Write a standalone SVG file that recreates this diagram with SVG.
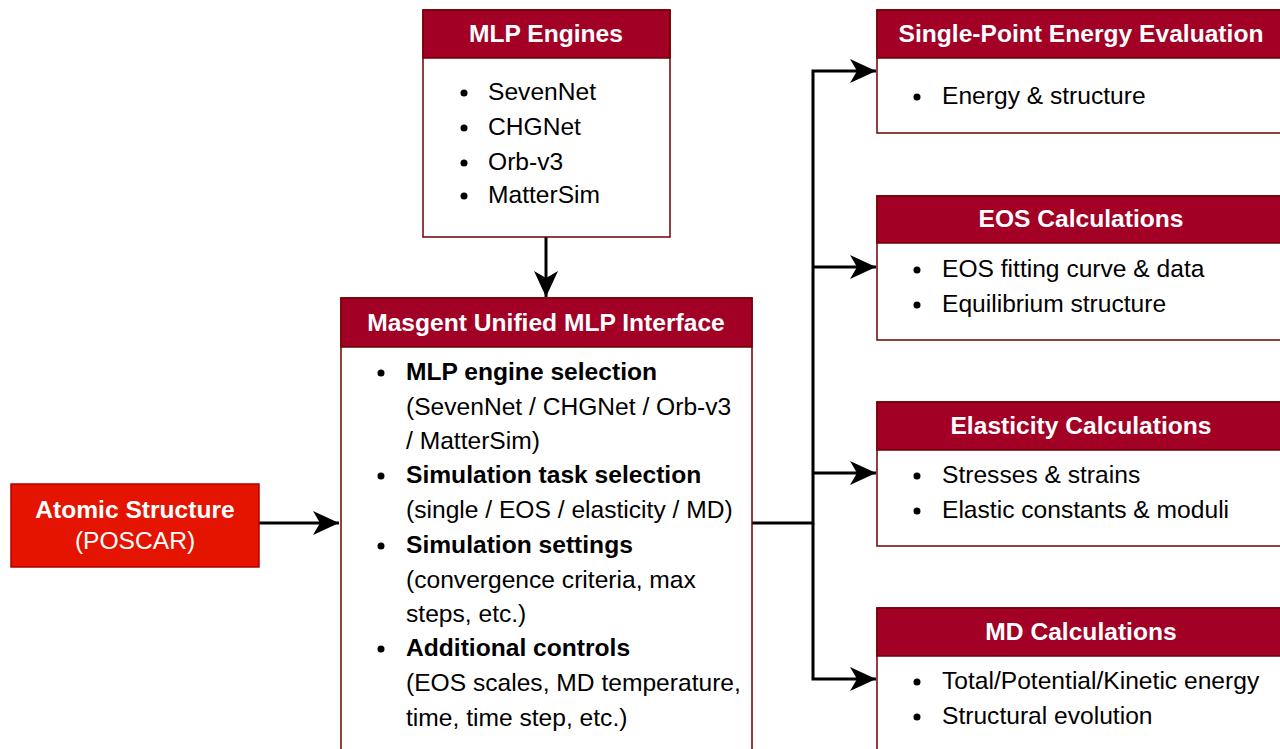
<svg xmlns="http://www.w3.org/2000/svg" width="1280" height="749" viewBox="0 0 1280 749">
<style>
.box{fill:#ffffff;stroke:#6f0000;stroke-width:1.5}
.hdr{fill:#a20025;stroke:#6f0000;stroke-width:1.5}
.ht{font-family:"Liberation Sans",Arial,sans-serif;font-size:24.6px;font-weight:bold;fill:#ffffff;text-anchor:middle}
.t{font-family:"Liberation Sans",Arial,sans-serif;font-size:24.6px;fill:#000000}
.b{font-weight:bold}
.conn{fill:none;stroke:#000000;stroke-width:3}
</style>
<defs>
<marker id="ah" viewBox="0 0 26 24" refX="26" refY="12" markerWidth="26" markerHeight="24" markerUnits="userSpaceOnUse" orient="auto">
<path d="M0,0 L26,12 L0,24 L7,12 Z" fill="#000"/>
</marker>
</defs>
<rect width="1280" height="749" fill="#ffffff"/>
<g id="connectors">
<path class="conn" d="M259,523 H339" marker-end="url(#ah)"/>
<path class="conn" d="M546,237 V297" marker-end="url(#ah)"/>
<path class="conn" d="M752,523 H813 V71 H876" marker-end="url(#ah)"/>
<path class="conn" d="M813,267 H876" marker-end="url(#ah)"/>
<path class="conn" d="M813,473 H876" marker-end="url(#ah)"/>
<path class="conn" d="M813,523 V679 H876" marker-end="url(#ah)"/>
</g>
<g id="atomic">
<rect x="11" y="484" width="248" height="83" fill="#e51400" stroke="#b20000" stroke-width="1.5"/>
<text class="ht" x="135" y="518">Atomic Structure</text>
<text class="t" x="135" y="549" style="fill:#fff;text-anchor:middle">(POSCAR)</text>
</g>
<g id="engines">
<rect class="box" x="423" y="10" width="247" height="227"/>
<rect class="hdr" x="423" y="10" width="247" height="48"/>
<text class="ht" x="546" y="42">MLP Engines</text>
<g class="t">
<circle cx="464" cy="93" r="3.5"/><text x="488" y="100">SevenNet</text>
<circle cx="464" cy="128" r="3.5"/><text x="488" y="135">CHGNet</text>
<circle cx="464" cy="163" r="3.5"/><text x="488" y="170">Orb-v3</text>
<circle cx="464" cy="196" r="3.5"/><text x="488" y="203">MatterSim</text>
</g>
</g>
<g id="masgent">
<rect class="box" x="341" y="298" width="411" height="470"/>
<rect class="hdr" x="341" y="298" width="411" height="49"/>
<text class="ht" x="546" y="331">Masgent Unified MLP Interface</text>
<g class="t">
<circle cx="381" cy="373" r="3.5"/><text class="b" x="406" y="380">MLP engine selection</text>
<text x="406" y="415">(SevenNet / CHGNet / Orb-v3</text>
<text x="406" y="449">/ MatterSim)</text>
<circle cx="381" cy="476" r="3.5"/><text class="b" x="406" y="483">Simulation task selection</text>
<text x="406" y="518">(single / EOS / elasticity / MD)</text>
<circle cx="381" cy="546" r="3.5"/><text class="b" x="406" y="553">Simulation settings</text>
<text x="406" y="588">(convergence criteria, max</text>
<text x="406" y="622">steps, etc.)</text>
<circle cx="381" cy="649" r="3.5"/><text class="b" x="406" y="656">Additional controls</text>
<text x="406" y="691">(EOS scales, MD temperature,</text>
<text x="406" y="726">time, time step, etc.)</text>
</g>
</g>
<g id="single">
<rect class="box" x="877" y="10" width="408" height="123"/>
<rect class="hdr" x="877" y="10" width="408" height="48"/>
<text class="ht" x="1081" y="42">Single-Point Energy Evaluation</text>
<g class="t">
<circle cx="917" cy="97" r="3.5"/><text x="942" y="104">Energy &amp; structure</text>
</g>
</g>
<g id="eos">
<rect class="box" x="877" y="196" width="408" height="144"/>
<rect class="hdr" x="877" y="196" width="408" height="47"/>
<text class="ht" x="1081" y="227">EOS Calculations</text>
<g class="t">
<circle cx="917" cy="270" r="3.5"/><text x="942" y="277">EOS fitting curve &amp; data</text>
<circle cx="917" cy="305" r="3.5"/><text x="942" y="312">Equilibrium structure</text>
</g>
</g>
<g id="elasticity">
<rect class="box" x="877" y="402" width="408" height="144"/>
<rect class="hdr" x="877" y="402" width="408" height="48"/>
<text class="ht" x="1081" y="434">Elasticity Calculations</text>
<g class="t">
<circle cx="917" cy="476" r="3.5"/><text x="942" y="483">Stresses &amp; strains</text>
<circle cx="917" cy="511" r="3.5"/><text x="942" y="518">Elastic constants &amp; moduli</text>
</g>
</g>
<g id="md">
<rect class="box" x="877" y="608" width="408" height="160"/>
<rect class="hdr" x="877" y="608" width="408" height="48"/>
<text class="ht" x="1081" y="640">MD Calculations</text>
<g class="t">
<circle cx="917" cy="682" r="3.5"/><text x="942" y="689">Total/Potential/Kinetic energy</text>
<circle cx="917" cy="717" r="3.5"/><text x="942" y="724">Structural evolution</text>
</g>
</g>
</svg>
